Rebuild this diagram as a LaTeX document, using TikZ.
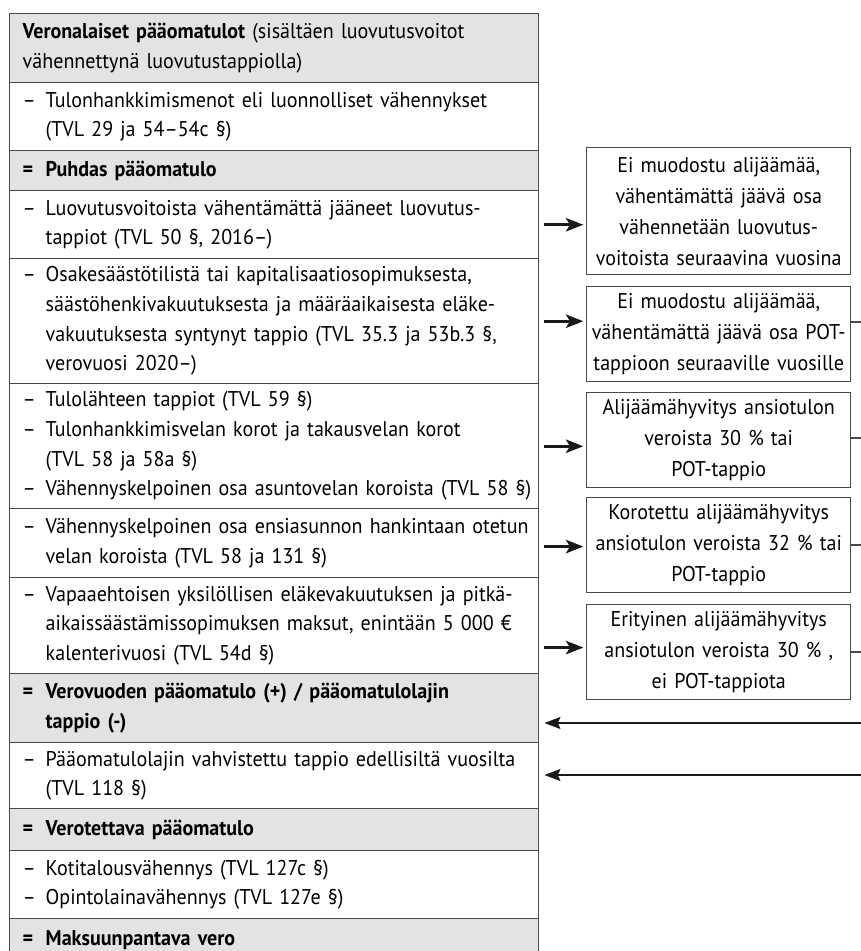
\documentclass[tikz,border=0pt]{standalone}
\usepackage{fontspec}
\setmainfont{PT Sans}[FakeStretch=0.94]
\usetikzlibrary{arrows.meta}
\definecolor{rowgrey}{HTML}{E3E3E3}
\definecolor{bord}{HTML}{4A4A4A}
\newcommand{\dsh}{\makebox[17.25pt][l]{–}}
\newcommand{\ind}{\hspace*{17.25pt}}
\newcommand{\dl}[1]{\mbox{\dsh #1}}
\newcommand{\il}[1]{\mbox{\ind #1}}
\newcommand{\el}[1]{\mbox{\textbf{\makebox[17.25pt][l]{=}#1}}}
\tikzset{
  rowbox/.style={draw=bord, line width=1.1pt, anchor=north west, text width=377.25pt,
    inner xsep=9.75pt, inner ysep=0pt, align=left,
    font=\fontsize{16}{22.25}\selectfont},
  greyrow/.style={rowbox, fill=rowgrey},
  sidebox/.style={draw=bord, line width=1.1pt, anchor=north west, text width=192pt,
    inner xsep=3pt, inner ysep=0pt, align=center, minimum height=71.25pt,
    font=\fontsize{16}{23.25}\selectfont},
  thickarr/.style={line width=2.3pt, draw=black!90, -{Stealth[length=13pt,width=10pt,inset=3pt]}, shorten >=2pt},
  thinarr/.style={line width=1pt, draw=black!90, -{Stealth[length=12pt,width=9pt,inset=2pt]}},
  outline/.style={line width=1.1pt, draw=bord}
}
\begin{document}
\begin{tikzpicture}[x=0.75pt,y=-0.75pt]
\useasboundingbox (0,0) rectangle (861,951);
\clip (0,0) rectangle (861,951);
% table rows
\node[greyrow, minimum height=51.75pt] (r1) at (9,13)
  {\mbox{\textbf{Veronalaiset pääomatulot} (sisältäen luovutusvoitot}\\\mbox{vähennettynä luovutustappiolla)}};
\node[rowbox, minimum height=51pt] (r2) at (9,82)
  {\dl{Tulonhankkimismenot eli luonnolliset vähennykset}\\\il{(TVL 29 ja 54–54c §)}};
\node[greyrow, minimum height=30pt] (r3) at (9,150)
  {\el{Puhdas pääomatulo}};
\node[rowbox, minimum height=51pt] (r4) at (9,190)
  {\dl{Luovutusvoitoista vähentämättä jääneet luovutus-}\\\il{tappiot (TVL 50 §, 2016–)}};
\node[rowbox, minimum height=93.75pt] (r5) at (9,258)
  {\dl{Osakesäästötilistä tai kapitalisaatiosopimuksesta,}\\\il{säästöhenkivakuutuksesta ja määräaikaisesta eläke-}\\\il{vakuutuksesta syntynyt tappio (TVL 35.3 ja 53b.3 §,}\\\il{verovuosi 2020–)}};
\node[rowbox, minimum height=93.75pt] (r6) at (9,383)
  {\dl{Tulolähteen tappiot (TVL 59 §)}\\\dl{Tulonhankkimisvelan korot ja takausvelan korot}\\\il{(TVL 58 ja 58a §)}\\\dl{Vähennyskelpoinen osa asuntovelan koroista (TVL 58 §)}};
\node[rowbox, minimum height=51.75pt] (r7) at (9,508)
  {\dl{Vähennyskelpoinen osa ensiasunnon hankintaan otetun}\\\il{velan koroista (TVL 58 ja 131 §)}};
\node[rowbox, minimum height=72pt] (r8) at (9,577)
  {\dl{Vapaaehtoisen yksilöllisen eläkevakuutuksen ja pitkä-}\\\il{aikaissäästämissopimuksen maksut, enintään 5 000 €}\\\il{kalenterivuosi (TVL 54d §)}};
\node[greyrow, minimum height=51.75pt] (r9) at (9,673)
  {\el{Verovuoden pääomatulo (+) / pääomatulolajin}\\\il{\textbf{tappio (-)}}};
\node[rowbox, minimum height=49.5pt] (r10) at (9,742)
  {\dl{Pääomatulolajin vahvistettu tappio edellisiltä vuosilta}\\\il{(TVL 118 §)}};
\node[greyrow, minimum height=31.5pt] (r11) at (9,808)
  {\el{Verotettava pääomatulo}};
\node[rowbox, minimum height=51pt] (r12) at (9,850)
  {\dl{Kotitalousvähennys (TVL 127c §)}\\\dl{Opintolainavähennys (TVL 127e §)}};
\node[greyrow, minimum height=31.5pt] (r13) at (9,918)
  {\el{Maksuunpantava vero}};
% side boxes
\node[sidebox, minimum height=95.25pt] (b1) at (586,147)
  {Ei muodostu alijäämää,\\vähentämättä jäävä osa\\vähennetään luovutus-\\\mbox{voitoista seuraavina vuosina}};
\node[sidebox] (b2) at (586,286)
  {Ei muodostu alijäämää,\\\mbox{vähentämättä jäävä osa POT-}\\\mbox{tappioon seuraaville vuosille}};
\node[sidebox] (b3) at (586,392)
  {Alijäämähyvitys ansiotulon\\veroista 30 \% tai\\POT-tappio};
\node[sidebox] (b4) at (586,497)
  {Korotettu alijäämähyvitys\\\mbox{ansiotulon veroista 32 \% tai}\\POT-tappio};
\node[sidebox] (b5) at (586,604)
  {Erityinen alijäämähyvitys\\\mbox{ansiotulon veroista 30 \% ,}\\ei POT-tappiota};
% arrows to side boxes
\draw[thickarr] ([xshift=3.75pt]r4.east) -- (r4.east -| b1.west);
\draw[thickarr] ([xshift=3.75pt]r5.east) -- (r5.east -| b2.west);
\draw[thickarr] ([xshift=3.75pt]r6.east) -- (r6.east -| b3.west);
\draw[thickarr] ([xshift=3.75pt,yshift=-2.5pt]r7.east) -- ([yshift=-2.5pt]r7.east -| b4.west);
\draw[thickarr] ([xshift=3.75pt,yshift=3.5pt]r8.east |- b5.west) -- ([yshift=3.5pt]b5.west);
% lines leaving to the right
\coordinate (e2) at (861,322);
\coordinate (e3) at (861,438);
\coordinate (e4) at (861,545);
\coordinate (e5) at (861,652);
\coordinate (e9) at (861,723);
\coordinate (e10) at (861,775);
\draw[outline] (b2.east |- e2) -- (e2);
\draw[outline] (b3.east |- e3) -- (e3);
\draw[outline] (b4.east |- e4) -- (e4);
\draw[outline] (b5.east |- e5) -- (e5);
% arrows coming back
\draw[thinarr] (e9) -- ([xshift=3.75pt]r9.east |- e9);
\draw[thinarr] (e10) -- ([xshift=3.75pt]r10.east |- e10);
\end{tikzpicture}
\end{document}
